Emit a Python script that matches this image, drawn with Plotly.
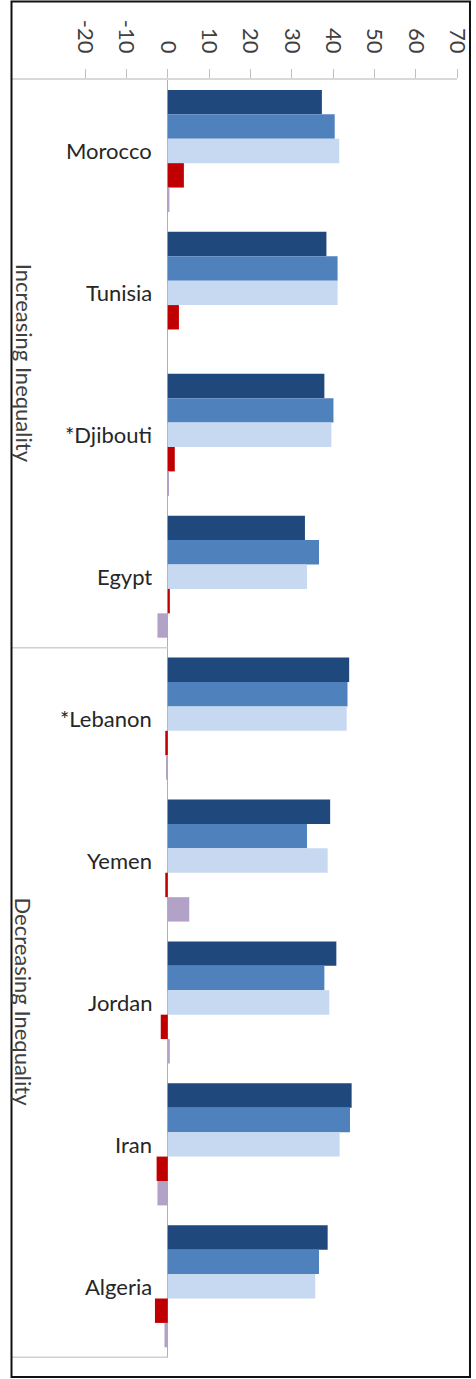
import plotly.graph_objects as go

# Countries, top to bottom
countries = ["Morocco", "Tunisia", "*Djibouti", "Egypt",
             "*Lebanon", "Yemen", "Jordan", "Iran", "Algeria"]

# Group headings and the category spans they cover
groups = ["Increasing Inequality", "Decreasing Inequality"]
group_spans = [(0, 3), (4, 8)]

# Series values per country
series_dark = [37.3, 38.4, 37.9, 33.2, 43.9, 39.3, 40.8, 44.5, 38.7]
series_mid = [40.4, 41.1, 40.1, 36.6, 43.5, 33.7, 37.9, 44.1, 36.6]
series_light = [41.5, 41.1, 39.6, 33.7, 43.3, 38.7, 39.1, 41.6, 35.7]
series_red = [3.9, 2.7, 1.7, 0.5, -0.6, -0.6, -1.7, -2.7, -3.1]
series_purple = [0.4, 0.0, 0.3, -2.5, -0.2, 5.2, 0.5, -2.5, -0.8]

tick_values = [-20, -10, 0, 10, 20, 30, 40, 50, 60, 70]
tick_labels = [str(v) for v in tick_values]

colors = ["#1F497D", "#4F81BD", "#C6D9F1", "#C00000", "#B3A2C7"]
all_series = [series_dark, series_mid, series_light, series_red, series_purple]

fig = go.Figure()
for vals, col in zip(all_series, colors):
    fig.add_trace(go.Bar(
        x=vals, y=countries, orientation="h",
        marker=dict(color=col, line=dict(width=0)),
        showlegend=False,
    ))

W, H = 476, 1379
ml, mr, mt, mb = 12, 18.5, 80, 21
x_lo, x_hi = -37.7, 70
FONT = "Lato, Calibri, sans-serif"

fig.update_layout(
    template="none",
    width=W, height=H,
    margin=dict(l=ml, r=mr, t=mt, b=mb, pad=0),
    paper_bgcolor="white", plot_bgcolor="white",
    barmode="group", bargap=0.14, bargroupgap=0,
    font=dict(family=FONT, color="#404040"),
    xaxis=dict(
        side="top", range=[x_lo, x_hi],
        tickmode="array", tickvals=tick_values, ticktext=tick_labels,
        tickangle=90, tickfont=dict(size=22, color="#404040"),
        ticks="outside", ticklen=9, tickcolor="#BFBFBF", tickwidth=1,
        ticklabelstandoff=8, automargin=False,
        showline=True, linecolor="#D9D9D9", linewidth=1.5,
        showgrid=False, zeroline=True, zerolinecolor="#B0B0B0",
        zerolinewidth=1.2, fixedrange=True,
    ),
    yaxis=dict(
        type="category", categoryorder="array", categoryarray=countries,
        autorange="reversed", showticklabels=False, showgrid=False,
        showline=False, ticks="", zeroline=False, automargin=False,
    ),
)

# Category labels sit just left of the zero line
for c in countries:
    fig.add_annotation(
        x=0, y=c, xref="x", yref="y", text=c, showarrow=False,
        xanchor="right", yanchor="middle", xshift=-14,
        font=dict(size=22, color="#262626", family=FONT),
    )

# Group headings, rotated, in the left strip
for g, (a, b) in zip(groups, group_spans):
    fig.add_annotation(
        x=(24 - ml) / (W - ml - mr), xref="paper",
        y=(a + b) / 2, yref="y", text=g, showarrow=False,
        textangle=90, xanchor="center", yanchor="middle",
        font=dict(size=22, color="#404040", family=FONT),
    )

# Separators between the groups on the category side
for pos in [3.5, 8.5]:
    fig.add_shape(type="line", xref="x", yref="y",
                  x0=x_lo, x1=0, y0=pos, y1=pos,
                  line=dict(color="#D0D0D0", width=1.5))

# Outer frame
plot_w = W - ml - mr
plot_h = H - mt - mb
def px_x(p):
    return (p - ml) / plot_w
def px_y(p):
    return (H - mb - p) / plot_h
fig.add_shape(type="rect", xref="paper", yref="paper",
              x0=px_x(11.5), x1=px_x(470.5), y0=px_y(1377), y1=px_y(1.5),
              line=dict(color="#111111", width=2), fillcolor="rgba(0,0,0,0)")

fig.write_html("out.html")
